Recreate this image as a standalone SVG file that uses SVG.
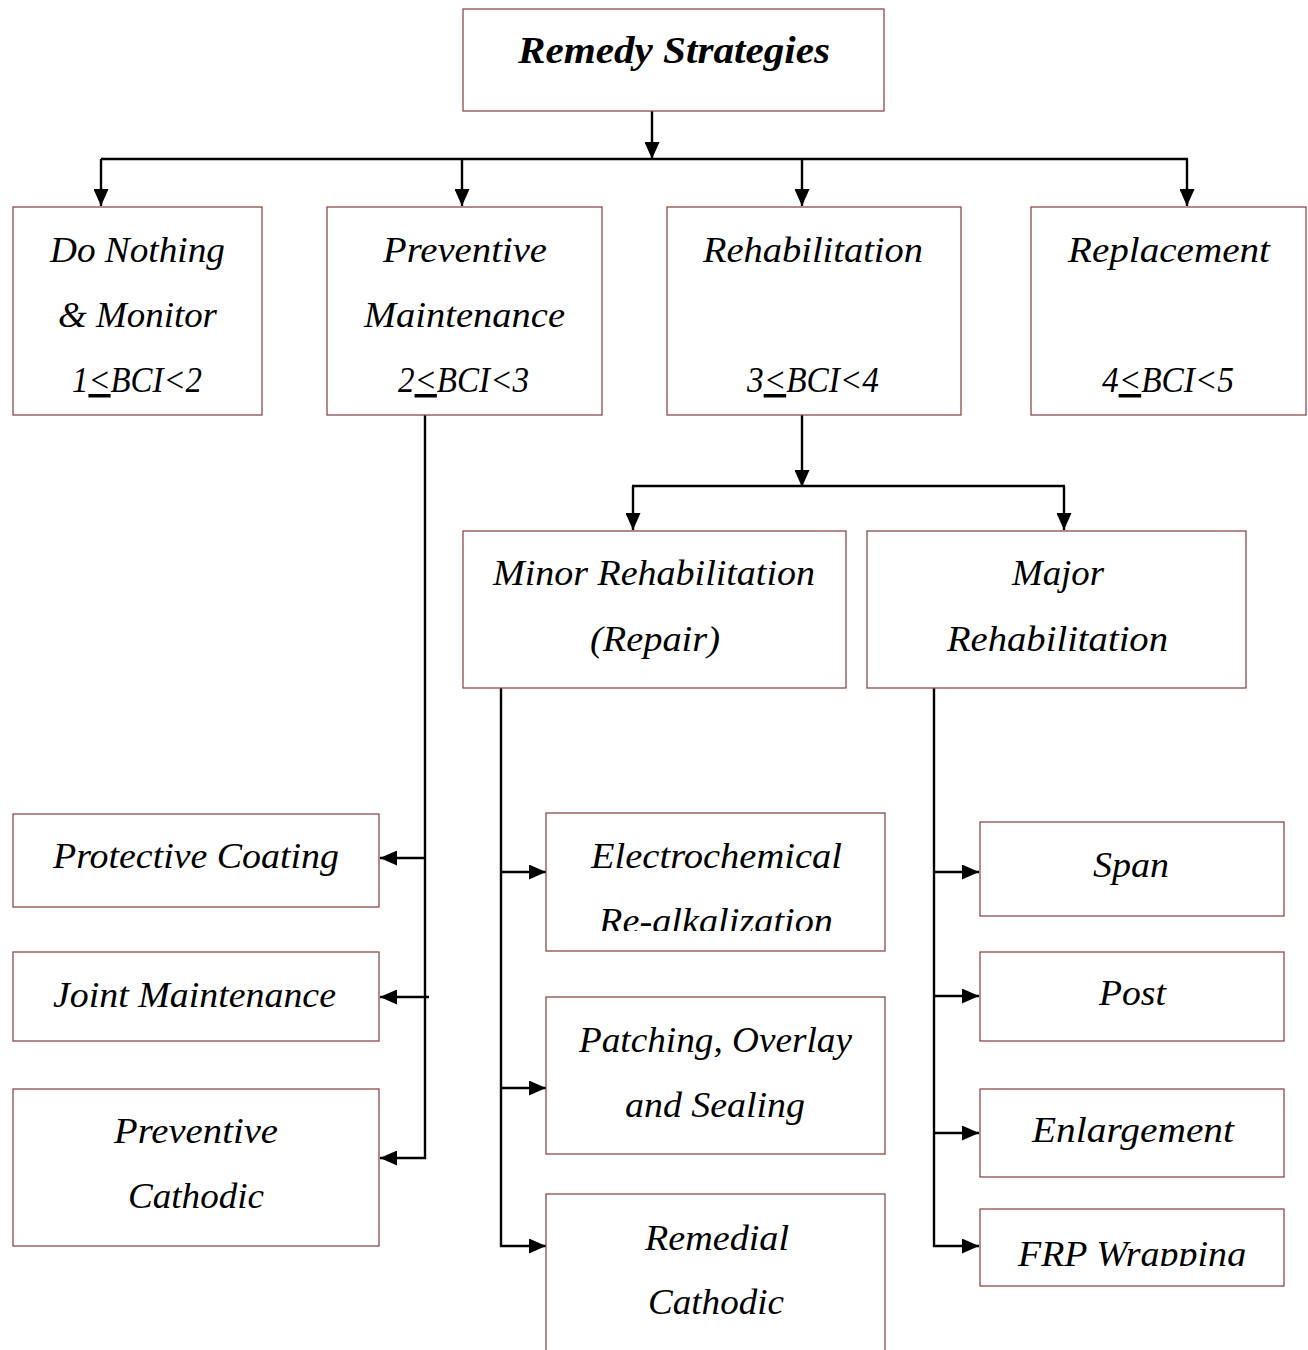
<svg xmlns="http://www.w3.org/2000/svg" width="1308" height="1350" viewBox="0 0 1308 1350">
<style>
.box{fill:#fff;stroke:#8b4b4b;stroke-width:1.3}
.t{font-family:"Liberation Serif","Times New Roman",serif;font-style:italic;font-size:35px;fill:#000;text-anchor:middle}
.title{font-weight:bold;font-size:38px}
.c{stroke:#000;stroke-width:2.4;fill:none}
.a{marker-end:url(#ah)}
.u{text-decoration:underline}
</style>
<defs>
<marker id="ah" markerUnits="userSpaceOnUse" markerWidth="17" markerHeight="15" refX="17" refY="7.5" orient="auto">
<path d="M0,0 L17,7.5 L0,15 z" fill="#000"/>
</marker>
<clipPath id="clipRe"><rect x="546" y="880" width="340" height="51"/></clipPath>
<clipPath id="clipFRP"><rect x="980" y="1210" width="305" height="56"/></clipPath>
</defs>
<rect width="1308" height="1350" fill="#fff"/>

<g id="connectors">
<line class="c a" x1="652" y1="111" x2="652" y2="159"/>
<line class="c" x1="101" y1="159" x2="1188" y2="159"/>
<line class="c a" x1="101" y1="159" x2="101" y2="206"/>
<line class="c a" x1="462" y1="159" x2="462" y2="206"/>
<line class="c a" x1="802" y1="159" x2="802" y2="206"/>
<line class="c a" x1="1187" y1="159" x2="1187" y2="206"/>

<line class="c" x1="425" y1="415" x2="425" y2="1159"/>
<line class="c a" x1="426" y1="858" x2="380" y2="858"/>
<line class="c a" x1="429" y1="997" x2="380" y2="997"/>
<line class="c a" x1="426" y1="1158" x2="380" y2="1158"/>

<line class="c a" x1="802" y1="415" x2="802" y2="487"/>
<line class="c" x1="632" y1="486" x2="1065" y2="486"/>
<line class="c a" x1="633" y1="486" x2="633" y2="530"/>
<line class="c a" x1="1064" y1="486" x2="1064" y2="530"/>

<line class="c" x1="501" y1="688" x2="501" y2="1247"/>
<line class="c a" x1="500" y1="872" x2="546" y2="872"/>
<line class="c a" x1="500" y1="1088" x2="546" y2="1088"/>
<line class="c a" x1="500" y1="1246" x2="546" y2="1246"/>

<line class="c" x1="934" y1="688" x2="934" y2="1247"/>
<line class="c a" x1="933" y1="872" x2="979" y2="872"/>
<line class="c a" x1="933" y1="996" x2="979" y2="996"/>
<line class="c a" x1="933" y1="1133" x2="979" y2="1133"/>
<line class="c a" x1="933" y1="1246" x2="979" y2="1246"/>
</g>

<g id="root">
<rect class="box" x="463" y="9" width="421" height="102"/>
<text class="t title" x="674" y="63" textLength="312" lengthAdjust="spacingAndGlyphs">Remedy Strategies</text>
</g>

<g id="do-nothing">
<rect class="box" x="13" y="207" width="249" height="208"/>
<text class="t" x="137.5" y="262" textLength="175" lengthAdjust="spacingAndGlyphs">Do Nothing</text>
<text class="t" x="137.5" y="327" textLength="159" lengthAdjust="spacingAndGlyphs">&amp; Monitor</text>
<text class="t" x="137" y="392" textLength="130" lengthAdjust="spacingAndGlyphs">1<tspan class="u">&lt;</tspan>BCI&lt;2</text>
</g>

<g id="preventive-maintenance">
<rect class="box" x="327" y="207" width="275" height="208"/>
<text class="t" x="465" y="262" textLength="164" lengthAdjust="spacingAndGlyphs">Preventive</text>
<text class="t" x="464.5" y="327" textLength="201" lengthAdjust="spacingAndGlyphs">Maintenance</text>
<text class="t" x="463.5" y="392" textLength="131" lengthAdjust="spacingAndGlyphs">2<tspan class="u">&lt;</tspan>BCI&lt;3</text>
</g>

<g id="rehabilitation">
<rect class="box" x="667" y="207" width="294" height="208"/>
<text class="t" x="813" y="262" textLength="220" lengthAdjust="spacingAndGlyphs">Rehabilitation</text>
<text class="t" x="813" y="392" textLength="132" lengthAdjust="spacingAndGlyphs">3<tspan class="u">&lt;</tspan>BCI&lt;4</text>
</g>

<g id="replacement">
<rect class="box" x="1031" y="207" width="275" height="208"/>
<text class="t" x="1169" y="262" textLength="202" lengthAdjust="spacingAndGlyphs">Replacement</text>
<text class="t" x="1168" y="392" textLength="132" lengthAdjust="spacingAndGlyphs">4<tspan class="u">&lt;</tspan>BCI&lt;5</text>
</g>

<g id="minor-rehabilitation">
<rect class="box" x="463" y="531" width="383" height="157"/>
<text class="t" x="654" y="585" textLength="322" lengthAdjust="spacingAndGlyphs">Minor Rehabilitation</text>
<text class="t" x="655" y="651" textLength="130" lengthAdjust="spacingAndGlyphs">(Repair)</text>
</g>

<g id="major-rehabilitation">
<rect class="box" x="867" y="531" width="379" height="157"/>
<text class="t" x="1058" y="585" textLength="92" lengthAdjust="spacingAndGlyphs">Major</text>
<text class="t" x="1057.5" y="651" textLength="221" lengthAdjust="spacingAndGlyphs">Rehabilitation</text>
</g>

<g id="protective-coating">
<rect class="box" x="13" y="814" width="366" height="93"/>
<text class="t" x="196" y="868" textLength="286" lengthAdjust="spacingAndGlyphs">Protective Coating</text>
</g>

<g id="joint-maintenance">
<rect class="box" x="13" y="952" width="366" height="89"/>
<text class="t" x="194.5" y="1007" textLength="283" lengthAdjust="spacingAndGlyphs">Joint Maintenance</text>
</g>

<g id="preventive-cathodic">
<rect class="box" x="13" y="1089" width="366" height="157"/>
<text class="t" x="196" y="1143" textLength="164" lengthAdjust="spacingAndGlyphs">Preventive</text>
<text class="t" x="196" y="1208" textLength="136" lengthAdjust="spacingAndGlyphs">Cathodic</text>
</g>

<g id="electrochemical">
<rect class="box" x="546" y="813" width="339" height="138"/>
<text class="t" x="716.5" y="868" textLength="251" lengthAdjust="spacingAndGlyphs">Electrochemical</text>
<text class="t" x="716" y="933" textLength="234" lengthAdjust="spacingAndGlyphs" clip-path="url(#clipRe)">Re-alkalization</text>
</g>

<g id="patching">
<rect class="box" x="546" y="997" width="339" height="157"/>
<text class="t" x="715.5" y="1052" textLength="273" lengthAdjust="spacingAndGlyphs">Patching, Overlay</text>
<text class="t" x="715" y="1117" textLength="180" lengthAdjust="spacingAndGlyphs">and Sealing</text>
</g>

<g id="remedial-cathodic">
<rect class="box" x="546" y="1194" width="339" height="200"/>
<text class="t" x="717" y="1250" textLength="144" lengthAdjust="spacingAndGlyphs">Remedial</text>
<text class="t" x="716" y="1314" textLength="136" lengthAdjust="spacingAndGlyphs">Cathodic</text>
</g>

<g id="span">
<rect class="box" x="980" y="822" width="304" height="94"/>
<text class="t" x="1131" y="877" textLength="76" lengthAdjust="spacingAndGlyphs">Span</text>
</g>

<g id="post">
<rect class="box" x="980" y="952" width="304" height="89"/>
<text class="t" x="1132.5" y="1005" textLength="67" lengthAdjust="spacingAndGlyphs">Post</text>
</g>

<g id="enlargement">
<rect class="box" x="980" y="1089" width="304" height="88"/>
<text class="t" x="1133" y="1142" textLength="202" lengthAdjust="spacingAndGlyphs">Enlargement</text>
</g>

<g id="frp-wrapping">
<rect class="box" x="980" y="1209" width="304" height="77"/>
<text class="t" x="1132" y="1266" textLength="228" lengthAdjust="spacingAndGlyphs" clip-path="url(#clipFRP)">FRP Wrapping</text>
</g>
</svg>
